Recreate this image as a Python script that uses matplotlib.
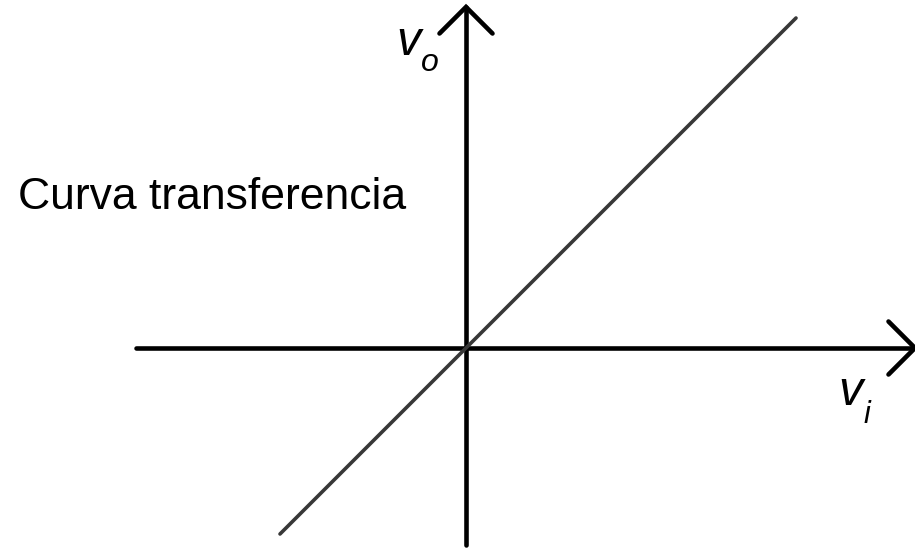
import numpy as np
import matplotlib
matplotlib.use("Agg")
import matplotlib.pyplot as plt

# ---- data (units: 1 unit = 100 px in the reference, origin at axes crossing) ----
vi = [-1.86, 3.30]           # transfer curve input values
vo = [-1.86, 3.30]           # transfer curve output values (vo = vi)
x_axis_span = [-3.30, 4.49]  # horizontal axis extent
y_axis_span = [-1.97, 3.41]  # vertical axis extent
title_text = "Curva transferencia"
x_label = ("v", "i")
y_label = ("v", "o")

W, H, DPI = 915, 548, 100
fig = plt.figure(figsize=(W / DPI, H / DPI), dpi=DPI)
ax = fig.add_axes([0, 0, 1, 1])
ax.set_xlim(-4.66, 4.49)
ax.set_ylim(-2.00, 3.48)
ax.axis("off")

axis_lw = 3.3
axis_col = "black"

# axes lines
ax.plot(x_axis_span, [0, 0], color=axis_col, lw=axis_lw, solid_capstyle="round")
ax.plot([0, 0], y_axis_span, color=axis_col, lw=axis_lw, solid_capstyle="round")

# chevron arrow heads
arm = 0.265
ax.plot([x_axis_span[1] - arm, x_axis_span[1], x_axis_span[1] - arm],
        [arm, 0, -arm], color=axis_col, lw=axis_lw,
        solid_capstyle="round", solid_joinstyle="miter")
ax.plot([-arm, 0, arm],
        [y_axis_span[1] - arm, y_axis_span[1], y_axis_span[1] - arm],
        color=axis_col, lw=axis_lw,
        solid_capstyle="round", solid_joinstyle="miter")

# transfer curve
ax.plot(vi, vo, color="#383838", lw=2.6, solid_capstyle="round", zorder=3)

font = "Liberation Sans"
# title text
fig.text(18 / W, 1 - 209 / H, title_text, fontsize=32, family=font,
         ha="left", va="baseline", color="black")

# v_o label
fig.text(396 / W, 1 - 55 / H, y_label[0], fontsize=35, family=font,
         style="italic", ha="left", va="baseline")
fig.text(421 / W, 1 - 71 / H, y_label[1], fontsize=23, family=font,
         style="italic", ha="left", va="baseline")

# v_i label
fig.text(838 / W, 1 - 405 / H, x_label[0], fontsize=35, family=font,
         style="italic", ha="left", va="baseline")
fig.text(864 / W, 1 - 423 / H, x_label[1], fontsize=22, family=font,
         style="italic", ha="left", va="baseline")

fig.savefig("out.png", dpi=DPI, facecolor="white")
